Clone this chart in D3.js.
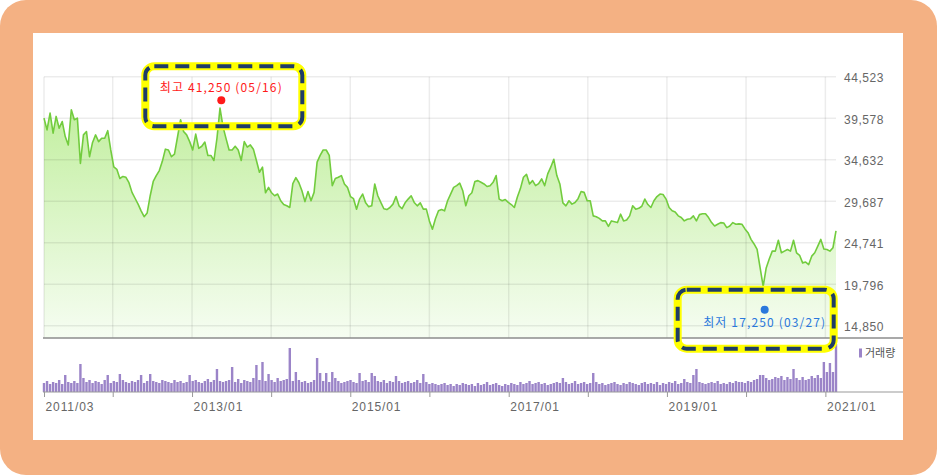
<!DOCTYPE html>
<html><head><meta charset="utf-8">
<script src="https://cdn.jsdelivr.net/npm/d3@7"></script>
<style>
html,body{margin:0;padding:0;background:#fff;}
svg{display:block;}
</style></head><body>
<svg id="chart" width="937" height="475"></svg>
<script>
// ---------------- data ----------------
const startDate = "2011-02-18";   // first (bi-weekly) observation
const stepDays = 14;
const prices = [
 39600,38200,40200,37800,39800,38400,39200,37400,36400,40600,
 39400,39600,34200,37600,38000,35000,36700,37600,36800,37200,
 37200,38100,35800,33800,33500,32400,32650,32550,31900,30750,
 30050,29350,28550,27850,28300,30350,32050,32750,33350,34450,
 35900,35800,35000,35300,37350,39400,38000,37600,36800,35800,
 37700,36000,36250,36750,35150,35150,34550,37200,40800,38550,
 37150,35800,35800,36250,35800,34550,36800,36150,36400,35900,
 34550,33150,33750,30700,31350,30700,30350,30550,29750,29300,
 29150,28950,31800,32500,31900,30950,29650,30850,29750,30750,
 34350,35150,35800,35800,35150,31550,32400,32550,32750,31750,
 31350,30250,30000,28750,29950,30550,29500,29050,29150,31750,
 30350,29550,28800,28700,28950,29350,30250,29150,28800,29500,
 29950,30350,29550,29150,29500,28750,28750,27350,26350,27600,
 28550,28700,28550,29750,30550,31350,31550,31850,30950,29150,
 30350,30700,32050,32150,31950,31750,31450,31550,31950,32750,
 29950,29750,29900,29550,29300,28950,30200,31200,32550,32900,
 31750,32150,31550,31800,32350,31550,32950,33750,34700,32750,
 31750,29500,29150,29750,29350,29550,30000,30850,30750,29750,
 29750,27950,27850,27650,27350,27350,26700,27350,27250,27150,
 28150,27350,27450,27950,29150,28750,28850,29100,29950,29300,
 28950,29750,30250,30550,30500,29950,28950,28550,28400,27950,
 27750,27350,27550,27600,27950,27350,28100,28200,28200,27750,
 27150,26750,26950,27150,27100,26550,26750,27150,26950,27000,
 26950,26400,25950,25150,24600,23950,21750,19550,21750,22800,
 23750,23750,25050,23550,23750,23950,23750,25050,23550,23250,
 22350,22450,22150,23150,23550,24350,25150,24000,23950,23750,
 24150,26150
];
const volumes = [ // thousand shares per period
 9,11,8,10,9,12,8,17,10,9,
 11,9,28,14,10,12,9,11,10,8,
 12,17,9,11,10,18,12,10,9,11,
 10,12,17,9,11,18,11,10,9,12,
 11,10,9,12,10,11,9,10,17,11,
 12,10,9,11,13,10,12,23,11,10,
 11,12,25,10,13,9,12,11,10,14,
 27,12,30,11,18,12,10,14,11,12,
 13,44,11,20,12,10,11,9,10,12,
 34,19,11,19,10,20,14,11,9,10,
 11,12,10,9,19,11,12,10,19,16,
 11,10,12,9,11,10,16,11,9,10,
 11,9,10,12,9,18,10,8,9,8,
 7,8,9,7,8,6,8,7,9,8,
 7,8,6,9,7,8,10,7,8,9,
 7,6,8,7,9,8,7,10,8,9,
 11,8,9,10,8,9,7,8,9,10,
 9,14,10,8,9,11,8,9,10,8,
 9,19,10,8,9,7,8,9,10,8,
 7,9,8,10,9,8,7,9,10,8,
 9,8,10,7,9,8,10,9,11,8,
 9,13,10,9,17,23,10,9,8,9,
 10,9,11,8,9,8,10,9,11,10,
 10,9,11,10,12,13,17,17,14,12,
 13,15,14,16,12,15,13,23,14,12,
 15,12,13,16,14,17,14,30,20,29,
 20,48
].map(v => v * 1000);
const yTickValues = [14850, 19796, 24741, 29687, 34632, 39578, 44523];
const xTickDates = ["2011-02-18","2012-01-01","2013-01-01","2014-01-01","2015-01-01","2016-01-01",
                    "2017-01-01","2018-01-01","2019-01-01","2020-01-01","2021-01-01"];
const xTickLabels = ["2011/03","","2013/01","","2015/01","","2017/01","","2019/01","","2021/01"];
const highNote = {date:"2013-05-16", value:41250, text:"최고 41,250 (05/16)"};
const lowNote  = {date:"2020-03-27", value:17250, text:"최저 17,250 (03/27)"};
const legendText = "거래량";

// ---------------- setup ----------------
const parse = d3.utcParse("%Y-%m-%d");
const t0 = parse(startDate);
const dates = prices.map((_, i) => d3.utcDay.offset(t0, i * stepDays));
const series = prices.map((p, i) => ({d: dates[i], p, v: volumes[i]}));

const L = 44, R = 836, TOP = 76.8, PBOT = 338, VBASE = 392, RIGHT_END = 903;
const x = d3.scaleUtc().domain([dates[0], dates[dates.length - 1]]).range([L, R]);
const y = d3.scaleLinear().domain([14850, 44523]).range([325.8, TOP]);
const yv = d3.scaleLinear().domain([0, 52000]).range([VBASE, 340]);

const svg = d3.select("#chart");
const NUMFONT = "'Liberation Sans', Arial, sans-serif";
const KFONT = "'Noto Sans CJK KR', 'Liberation Sans', sans-serif";

// frame
svg.append("rect").attr("x", 0).attr("y", 0).attr("width", 937).attr("height", 475)
  .attr("rx", 26).attr("fill", "#F4B183");
svg.append("rect").attr("x", 33).attr("y", 33).attr("width", 870).attr("height", 407)
  .attr("fill", "#ffffff");

// gradient
const defs = svg.append("defs");
const grad = defs.append("linearGradient").attr("id", "gfill")
  .attr("gradientUnits", "userSpaceOnUse").attr("x1", 0).attr("x2", 0)
  .attr("y1", TOP + 20).attr("y2", PBOT);
grad.append("stop").attr("offset", "0%").attr("stop-color", "#c0ee9c");
grad.append("stop").attr("offset", "100%").attr("stop-color", "#f6fdf2");

// area
const area = d3.area().x(d => x(d.d)).y0(PBOT).y1(d => y(d.p));
svg.append("path").datum(series).attr("d", area).attr("fill", "url(#gfill)");

// grid
const g = svg.append("g");
g.selectAll("line.h").data(yTickValues).join("line")
  .attr("x1", L).attr("x2", R).attr("y1", d => y(d)).attr("y2", d => y(d))
  .attr("stroke", "rgba(0,0,0,0.075)").attr("stroke-width", 1.5);
g.selectAll("line.v").data(xTickDates).join("line")
  .attr("x1", d => x(parse(d))).attr("x2", d => x(parse(d)))
  .attr("y1", TOP).attr("y2", PBOT)
  .attr("stroke", "rgba(0,0,0,0.075)").attr("stroke-width", 1.5);

// price line
const line = d3.line().x(d => x(d.d)).y(d => y(d.p));
svg.append("path").datum(series).attr("d", line).attr("fill", "none")
  .attr("stroke", "#72cc3e").attr("stroke-width", 1.6).attr("stroke-linejoin", "round");

// separators
svg.append("line").attr("x1", 43).attr("x2", RIGHT_END).attr("y1", PBOT).attr("y2", PBOT)
  .attr("stroke", "#8c8c8c").attr("stroke-width", 1.5);

// volume bars
svg.append("g").selectAll("rect").data(series).join("rect")
  .attr("x", d => x(d.d) - 1.2).attr("width", 2.4)
  .attr("y", d => yv(d.v)).attr("height", d => VBASE - yv(d.v))
  .attr("fill", "#9b84c8");

// y axis (right)
const yAxis = d3.axisRight(y).tickValues(yTickValues).tickSize(0).tickPadding(8)
  .tickFormat(d3.format(","));
const ya = svg.append("g").attr("transform", `translate(${R},0)`).call(yAxis);
ya.select(".domain").remove();
ya.selectAll("text").attr("fill", "#666").style("font", `12px ${NUMFONT}`)
  .style("letter-spacing", "0.55px").attr("dy", "0.4em");

// x axis
const xAxis = d3.axisBottom(x).tickValues(xTickDates.map(parse)).tickSize(5)
  .tickFormat((d, i) => xTickLabels[i]);
const xa = svg.append("g").attr("transform", `translate(0,${VBASE})`).call(xAxis);
xa.select(".domain").remove();
xa.selectAll(".tick line").attr("stroke", "#999");
xa.selectAll("text").attr("fill", "#666").attr("text-anchor", "start").attr("dx", 1)
  .attr("y", 10).style("font", `12px ${NUMFONT}`).style("letter-spacing", "0.9px");
svg.append("line").attr("x1", 43).attr("x2", RIGHT_END).attr("y1", VBASE).attr("y2", VBASE)
  .attr("stroke", "#9a9a9a").attr("stroke-width", 1.2);

// legend
svg.append("rect").attr("x", 859).attr("y", 348.5).attr("width", 3).attr("height", 9)
  .attr("fill", "#9b84c8");
svg.append("text").attr("x", 865).attr("y", 357).text(legendText)
  .attr("fill", "#555").style("font", `11px ${KFONT}`);

// annotations
function note(n, dotDy, textDy, color, box) {
  const cx = x(parse(n.date)), cy = y(n.value) + dotDy;
  const bx = cx + box[0], by = cy + box[1], bw = box[2], bh = box[3];
  svg.append("rect").attr("x", bx).attr("y", by).attr("width", bw).attr("height", bh)
    .attr("rx", 9).attr("fill", "none").attr("stroke", "#ffff00").attr("stroke-width", 8);
  svg.append("rect").attr("x", bx).attr("y", by).attr("width", bw).attr("height", bh)
    .attr("rx", 9).attr("fill", "none").attr("stroke", "#1f3d66").attr("stroke-width", 4)
    .attr("stroke-dasharray", "14,7");
  svg.append("circle").attr("cx", cx).attr("cy", cy).attr("r", 4).attr("fill", color);
  svg.append("text").attr("x", cx).attr("y", cy + textDy).attr("text-anchor", "middle")
    .attr("fill", color).style("font", `12px ${KFONT}`).style("letter-spacing", "1.15px")
    .text(n.text);
}
note(highNote, -4, -8, "#ff1a1a", [-76, -34, 157, 60]);
note(lowNote, 4, 17, "#2a78dc", [-87, -20, 156, 59]);
</script>
</body></html>
